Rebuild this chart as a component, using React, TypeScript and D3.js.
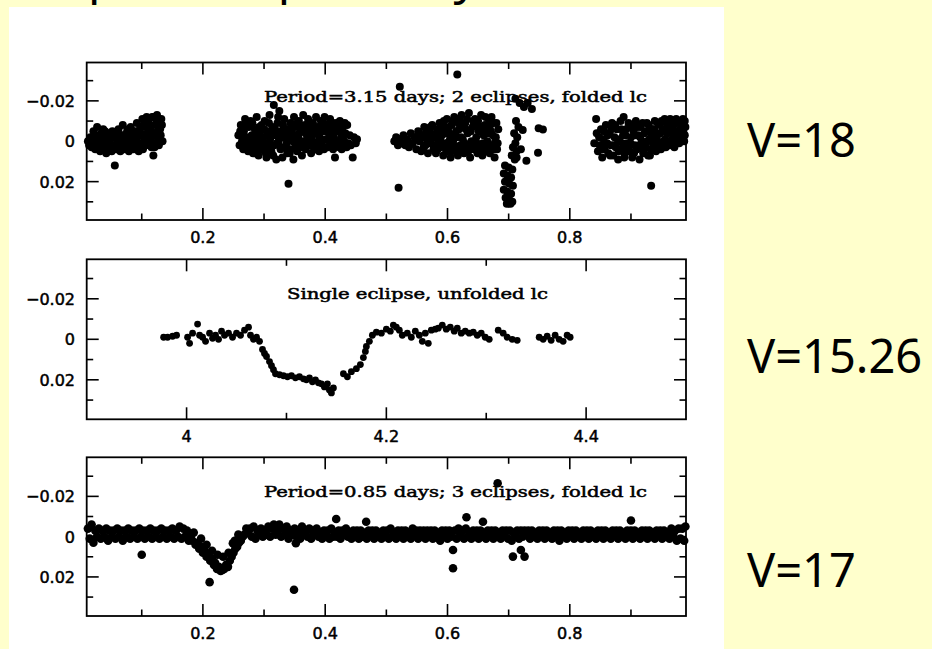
import React from 'react';
import * as d3 from 'd3';

// folded light curve, P = 3.15 d  [phase, delta mag]
const lc1: [number, number][] = [
  [.012,.000],[.016,-.002],[.018,.003],[.021,-.005],[.022,.001],[.024,.004],[.026,-.003],[.027,-.007],[.029,.002],[.031,-.001],
  [.032,.005],[.034,-.004],[.036,.001],[.037,-.006],[.039,.003],[.041,-.002],[.042,.006],[.044,.000],[.046,-.004],[.047,.003],
  [.049,-.001],[.051,.005],[.052,-.005],[.054,.002],[.056,.012],[.057,-.002],[.059,.004],[.061,.000],[.062,-.006],[.064,.003],
  [.066,-.003],[.067,.001],[.069,-.008],[.071,.004],[.072,-.001],[.074,.002],[.076,-.005],[.077,.000],[.079,.005],[.081,-.003],
  [.082,-.007],[.084,.001],[.086,-.002],[.087,.004],[.089,-.005],[.091,.000],[.092,-.009],[.094,.003],[.096,-.003],[.097,-.006],
  [.099,.001],[.101,-.011],[.102,.004],[.104,-.002],[.106,-.007],[.107,.002],[.109,-.004],[.111,-.010],[.112,.000],[.114,-.006],
  [.116,.003],[.117,-.012],[.119,.007],[.120,-.003],[.122,-.008],[.123,.001],[.125,-.013],[.126,-.005],[.128,.002],[.129,-.009],
  [.131,-.003],[.132,-.011],[.134,.000],
  [.014,.002],[.019,-.001],[.023,-.003],[.028,.003],[.033,-.002],[.038,.000],[.040,-.005],[.045,.001],[.050,-.003],[.053,.004],
  [.058,-.004],[.063,-.001],[.065,.005],[.070,-.003],[.073,.002],[.078,-.006],[.080,.002],[.085,-.005],[.088,.001],[.093,-.002],
  [.095,.005],[.098,-.004],[.103,-.008],[.105,.001],[.110,-.002],[.113,-.008],[.115,-.001],[.118,-.004],[.121,.003],[.124,-.010],
  [.127,-.001],[.130,-.006],[.133,-.008],[.108,-.012],[.120,-.012],
  [.258,-.003],[.260,.002],[.262,-.008],[.264,.000],[.266,.004],[.267,-.005],[.269,-.011],[.270,.001],[.272,-.002],[.274,.005],
  [.275,-.007],[.277,.002],[.278,-.010],[.280,-.003],[.282,.006],[.283,.000],[.285,-.006],[.286,.003],[.288,-.012],[.290,-.001],
  [.291,.007],[.293,-.004],[.294,.002],[.296,-.008],[.298,.004],[.299,-.002],[.301,-.010],[.302,.001],[.304,.008],[.306,-.005],
  [.307,.003],[.309,-.013],[.310,-.001],[.312,.005],[.314,-.007],[.316,-.018],[.317,.002],[.319,-.003],[.320,.009],[.322,-.009],
  [.324,.000],[.325,-.015],[.327,.004],[.328,-.005],[.330,.008],[.332,-.002],[.333,-.011],[.335,.003],[.336,-.006],[.338,.006],
  [.340,.021],[.341,-.001],[.343,-.009],[.344,.004],[.346,-.004],[.348,.009],[.349,-.012],[.351,.001],[.352,-.007],[.354,.005],
  [.356,-.002],[.357,-.010],[.359,.003],[.360,-.005],[.362,.007],[.364,-.013],[.365,.000],[.367,-.008],[.368,.004],[.370,-.003],
  [.372,-.011],[.373,.002],[.375,-.006],[.377,.006],[.378,-.001],[.380,-.009],[.381,.003],[.383,-.004],[.385,-.012],[.386,.001],
  [.388,-.007],[.390,.005],[.391,-.002],[.393,-.010],[.394,.002],[.396,-.005],[.398,.004],[.399,-.012],[.401,-.001],[.403,-.008],
  [.404,.003],[.406,-.004],[.408,-.011],[.409,.001],[.411,-.006],[.413,.004],[.414,-.002],[.416,.008],[.418,-.009],[.419,.000],
  [.421,-.005],[.423,.003],[.424,-.010],[.426,-.002],[.428,.002],[.429,-.007],[.431,.000],[.433,-.004],[.435,.003],[.436,-.008],
  [.438,.001],[.440,-.003],[.442,.002],[.445,.008],[.447,-.002],[.450,.001],[.452,-.001],
  [.261,-.005],[.265,-.002],[.268,.003],[.271,-.008],[.276,-.001],[.279,.004],[.281,-.009],[.284,-.003],[.287,.000],[.289,.005],
  [.292,-.007],[.295,-.001],[.297,.002],[.300,-.006],[.303,.006],[.305,-.003],[.308,-.009],[.311,.002],[.313,-.004],[.315,.007],
  [.318,-.006],[.321,.001],[.323,-.012],[.326,-.003],[.329,.003],[.331,-.008],[.334,-.005],[.337,.001],[.339,-.004],[.342,.006],
  [.345,-.007],[.347,.000],[.350,-.003],[.353,.002],[.355,-.009],[.358,-.004],[.361,.001],[.363,-.007],[.366,.003],[.369,-.005],
  [.371,.000],[.374,-.009],[.376,.002],[.379,-.003],[.382,-.007],[.384,.004],[.387,-.004],[.389,.000],[.392,-.007],[.395,.000],
  [.397,-.009],[.400,.003],[.402,-.005],[.405,-.008],[.407,.000],[.410,-.003],[.412,-.009],[.415,.002],[.417,-.005],[.420,-.008],
  [.422,.001],[.425,-.006],[.427,.004],[.430,-.003],[.432,-.009],
  [.513,.000],[.516,-.002],[.519,.002],[.522,-.027],[.520,.023],[.522,-.001],[.525,.001],[.528,-.003],[.531,.002],[.534,-.001],
  [.537,.003],[.540,-.004],[.543,.001],[.546,-.002],[.549,.004],[.552,-.005],[.554,.000],[.557,.005],[.559,-.003],[.562,-.007],
  [.564,.002],[.566,-.001],[.568,.006],[.571,-.005],[.573,.001],[.575,-.008],[.577,.004],[.579,-.002],[.581,.006],[.583,-.006],
  [.585,.000],[.587,-.009],[.589,.003],[.591,-.003],[.593,.007],[.595,-.007],[.597,.001],[.599,-.011],[.601,.004],[.603,-.004],
  [.605,.008],[.607,-.008],[.609,.000],[.611,-.012],[.613,.005],[.615,-.002],[.616,-.033],[.617,.007],[.619,-.006],[.621,.002],
  [.623,-.013],[.625,-.001],[.627,.006],[.629,-.009],[.631,.003],[.633,-.004],[.635,-.014],[.637,.008],[.639,.000],[.641,-.007],
  [.643,.004],[.645,-.011],[.647,-.002],[.649,.006],[.651,-.005],[.653,.002],[.655,-.013],[.657,.007],[.659,-.003],[.661,-.008],
  [.663,.004],[.665,.000],[.667,-.011],[.669,.006],[.671,-.005],[.673,.002],[.675,-.009],[.677,.008],[.679,-.002],[.681,.004],
  [.683,-.006],[.605,-.003],[.612,.003],[.618,-.009],[.624,.004],[.630,-.006],[.636,.002],[.642,-.010],[.648,.001],[.654,-.007],
  [.660,.005],[.666,-.004],[.672,-.012],[.678,.000],[.600,.001],[.590,-.006],[.580,.002],[.570,-.002],
  [.556,-.002],[.561,.003],[.565,-.005],[.569,.001],[.572,-.007],[.576,-.003],[.578,.003],[.582,-.004],[.584,.004],[.586,-.006],
  [.588,-.001],[.592,.002],[.594,-.010],[.596,-.004],[.598,.005],[.602,-.007],[.604,-.001],[.606,.005],[.608,-.010],[.610,.002],
  [.614,-.005],[.620,-.011],[.622,-.002],[.626,-.008],[.628,.001],[.632,-.011],[.634,.005],[.638,-.005],[.640,.003],[.644,-.008],
  [.646,.002],[.650,-.010],[.652,.004],[.656,-.005],[.658,.001],[.662,-.012],[.664,-.006],[.668,.002],[.670,-.008],[.674,-.003],
  [.676,.004],[.680,-.009],[.682,.001],
  // eclipse at phase 0.70
  [.712,-.010],[.716,-.007],[.709,-.004],[.714,-.002],[.711,.001],[.707,.003],[.713,.005],[.705,.007],[.710,.009],[.713,.008],
  [.694,.012],[.700,.013],[.706,.014],[.692,.016],[.698,.017],[.704,.018],[.694,.020],[.701,.021],[.707,.022],[.692,.024],
  [.698,.025],[.704,.026],[.695,.028],[.701,.029],[.706,.030],[.697,.031],[.703,.031],
  [.720,.004],[.729,.0096],[.748,.0057],[.749,-.0065],[.756,-.0058],[.723,-.0056],
  [.711,-.021],[.718,-.019],[.725,-.017],[.731,-.019],[.738,-.016],
  [.843,-.011],[.840,.001],[.844,-.004],[.846,.005],[.849,.002],[.851,-.006],[.853,.008],[.855,-.001],[.857,.004],[.859,-.008],
  [.861,.001],[.863,.006],[.865,-.004],[.867,.002],[.869,-.009],[.871,.007],[.873,-.002],[.875,.003],[.877,-.006],[.879,.009],
  [.881,.000],[.883,-.010],[.885,.004],[.887,-.003],[.888,-.012],[.890,.006],[.892,-.006],[.894,.001],[.896,-.009],[.898,.005],
  [.900,-.002],[.902,.008],[.904,-.005],[.906,.002],[.908,-.010],[.910,.004],[.912,-.003],[.914,.009],[.916,-.007],[.918,.000],
  [.920,.006],[.922,-.004],[.924,.003],[.926,-.009],[.928,.007],[.930,-.001],[.932,.004],[.933,.022],[.935,-.006],[.937,.002],
  [.939,-.010],[.941,.005],[.943,-.003],[.945,.001],[.947,-.008],[.949,.004],[.951,-.005],[.953,.000],[.955,-.011],[.957,.003],
  [.959,-.004],[.961,-.008],[.963,.002],[.965,-.006],[.967,-.001],[.969,-.010],[.971,.003],[.973,-.005],[.975,-.002],[.977,-.009],
  [.979,.001],[.981,-.006],[.983,-.003],[.985,-.011],[.987,.000],[.989,-.007],[.988,-.003],
  [.848,-.002],[.852,.004],[.856,-.005],[.858,.002],[.862,-.003],[.866,.007],[.868,-.006],[.872,.002],[.874,-.008],[.878,-.001],
  [.880,.005],[.884,-.006],[.886,.001],[.889,.008],[.891,-.003],[.895,.003],[.897,-.007],[.899,.001],[.903,-.008],[.905,.006],
  [.907,-.003],[.911,-.007],[.913,.002],[.915,-.002],[.919,-.009],[.921,.004],[.925,-.005],[.927,.000],[.929,-.008],[.931,.007],
  [.934,-.003],[.936,.001],[.938,-.006],[.942,-.001],[.944,-.009],[.946,.003],[.948,-.004],[.950,-.010],[.952,.002],[.954,-.006],
  [.956,-.001],[.958,-.009],[.960,.001],[.962,-.005],[.964,-.011],[.966,.000],[.968,-.004],[.970,-.008],[.972,.000],[.974,-.011],
  [.976,-.004],[.978,.000],[.980,-.009],[.982,-.002],[.984,-.007],[.986,-.004],[.988,-.010],
];

// single eclipse, unfolded  [time, delta mag]
const lc2: [number, number][] = [
  [3.977,-.001],[3.981,-.001],[3.986,-.0015],[3.990,-.002],
  [4.001,-.001],[4.003,.002],[4.006,-.003],[4.011,-.0075],[4.013,-.002],[4.016,-.001],[4.019,.001],[4.023,-.003],[4.026,-.0005],
  [4.029,-.002],[4.032,.000],[4.035,-.004],[4.038,-.002],[4.042,-.003],[4.046,-.001],[4.050,-.003],[4.054,-.002],[4.058,-.0045],
  [4.062,-.006],[4.064,-.002],[4.067,.000],[4.070,-.001],[4.073,.001],
  [4.076,.005],[4.078,.007],[4.080,.0085],[4.083,.011],[4.085,.013],[4.087,.015],[4.089,.017],
  [4.093,.0175],[4.097,.018],[4.101,.0185],[4.105,.018],[4.109,.019],[4.113,.0185],[4.117,.0195],[4.120,.020],[4.123,.019],
  [4.126,.021],[4.129,.020],[4.132,.0215],[4.135,.022],[4.138,.0235],[4.141,.022],[4.143,.025],[4.145,.0265],[4.147,.024],
  [4.157,.017],[4.161,.0185],[4.165,.016],[4.170,.0145],[4.174,.0125],[4.177,.009],[4.179,.006],[4.180,.0035],[4.183,.001],
  [4.186,-.002],[4.190,-.0035],[4.195,-.003],[4.200,-.005],[4.204,-.004],[4.207,-.007],[4.210,-.006],[4.213,-.0045],[4.216,-.002],
  [4.221,-.003],[4.225,-.001],[4.229,-.004],[4.233,-.002],[4.236,.001],[4.239,-.003],[4.242,.002],[4.245,-.0045],[4.249,-.005],
  [4.252,-.0055],[4.256,-.007],[4.260,-.005],[4.264,-.006],[4.268,-.004],[4.271,-.0055],[4.275,-.003],[4.279,-.004],[4.283,-.003],
  [4.287,-.0035],[4.291,-.002],[4.295,-.003],[4.299,-.001],[4.303,.000],[4.312,-.0045],[4.317,-.003],[4.321,-.001],[4.326,.000],
  [4.331,.0005],
  [4.353,-.001],[4.357,.000],[4.361,-.0015],[4.365,.0005],[4.369,-.002],[4.373,.000],[4.377,.001],[4.381,-.002],[4.384,-.001],
];

// folded light curve, P = 0.85 d  [phase, delta mag]
const lc3: [number, number][] = [
  [.012,-.004],[.015,.001],[.018,-.006],[.021,.003],[.024,-.003],[.027,.000],[.030,-.004],[.033,.001],[.036,-.003],[.039,.000],
  [.042,-.004],[.045,.002],[.048,-.003],[.051,.000],[.054,-.003],[.057,.001],[.060,-.004],[.063,.000],[.066,-.003],[.069,.002],
  [.072,-.003],[.075,.000],[.078,-.004],[.081,.001],[.084,-.003],[.087,.000],[.090,-.003],[.093,.001],[.096,-.004],[.099,.000],
  [.100,.009],[.102,-.003],[.105,.001],[.108,-.003],[.111,.000],[.114,-.004],[.117,.001],[.120,-.003],[.123,.000],[.126,-.003],
  [.129,.001],[.132,-.004],[.135,.000],[.138,-.003],[.141,.001],[.144,-.003],[.147,.000],[.150,-.004],[.153,.001],[.156,-.003],
  [.159,.000],[.162,-.005],[.165,.001],[.168,-.004],[.171,.000],[.174,-.003],[.177,.002],
  [.180,.000],[.183,.002],[.185,-.002],[.188,.004],[.191,.003],[.194,.006],[.197,.005],[.200,.008],[.203,.007],[.206,.010],
  [.209,.009],[.211,.0226],[.212,.012],[.215,.011],[.218,.014],[.220,.013],[.223,.016],[.226,.015],[.229,.017],[.232,.0165],
  [.235,.016],[.238,.014],[.241,.015],[.244,.012],[.247,.010],[.249,.0033],[.250,.008],[.253,.006],[.256,.005],[.259,.003],
  [.262,.002],[.265,.000],[.268,-.001],[.271,-.004],[.274,-.002],
  [.197,.001],[.206,.004],[.215,.007],[.224,.009],[.233,.010],[.242,.008],[.252,.002],[.258,-.001],
  [.277,-.004],[.280,.000],[.283,-.005],[.286,.001],[.289,-.003],[.292,-.001],[.295,-.004],[.298,.000],[.301,-.003],[.304,-.001],
  [.307,-.005],[.310,.000],[.313,-.004],[.316,-.006],[.319,-.001],[.322,-.003],[.325,-.006],[.328,.000],[.331,-.004],[.334,-.001],
  [.337,-.005],[.340,.001],[.343,-.003],[.346,-.001],[.349,.0264],[.350,-.004],[.352,.0033],[.353,.000],[.356,-.003],[.359,.001],
  [.362,-.005],[.365,-.001],[.368,-.003],[.371,.000],[.374,-.004],[.377,.001],[.380,-.003],[.383,-.001],[.386,-.004],[.389,.000],
  [.392,-.002],[.395,.001],[.398,-.003],[.401,-.001],[.404,-.003],[.407,.001],[.410,-.004],[.413,.000],[.416,-.002],[.418,-.0088],
  [.419,.000],[.422,-.003],[.425,.001],[.428,-.003],[.431,-.001],[.434,-.004],[.437,.000],[.440,-.002],[.443,.001],[.446,-.003],
  [.449,-.001],[.452,-.003],[.455,.001],[.458,-.003],[.461,.000],[.464,-.002],[.467,-.0074],[.468,.001],[.471,-.003],[.474,-.001],
  [.477,-.003],[.480,.001],[.483,-.003],[.486,.000],[.489,-.002],[.492,.001],[.495,-.003],[.498,-.001],[.501,-.003],[.504,.001],
  [.507,-.004],[.510,.000],[.513,-.002],[.516,.001],[.519,-.003],[.522,-.001],[.525,-.003],[.528,.001],[.531,-.003],[.534,.000],
  [.537,-.002],[.540,.001],[.543,-.004],[.546,-.001],[.549,-.003],[.552,.001],[.555,-.003],[.558,.000],[.561,-.003],[.564,.001],
  [.567,-.003],[.570,-.001],[.573,-.003],[.576,.001],[.579,-.003],[.582,.000],[.585,-.002],[.588,.002],[.591,-.003],[.594,-.001],
  [.597,-.003],[.600,.001],[.603,-.003],[.606,.000],[.609,.0066],[.609,.0157],[.612,-.003],[.615,.001],[.618,-.004],[.621,-.001],
  [.624,-.003],[.627,.001],[.630,-.004],[.631,-.0096],[.633,.000],[.636,-.002],[.639,.001],[.642,-.003],[.645,-.001],[.648,-.003],
  [.651,.001],[.654,-.003],[.657,.000],[.658,-.0074],[.660,-.002],[.663,.001],[.666,-.003],[.669,-.001],[.672,-.003],[.675,.001],
  [.678,-.003],[.681,.000],[.682,-.0265],[.684,-.002],[.687,.001],[.690,-.003],[.693,-.001],[.696,-.003],[.699,.001],[.702,-.003],
  [.705,.002],[.707,.0099],[.708,-.002],[.711,.000],[.714,-.003],[.717,.001],[.720,.0066],[.720,-.003],[.723,.000],[.726,.0099],
  [.726,-.003],[.729,-.001],[.732,-.003],[.735,.001],[.738,-.003],[.741,.000],[.744,-.002],[.747,.001],[.750,-.003],[.753,-.001],
  [.756,-.003],[.759,.001],[.762,-.003],[.765,.000],[.768,-.002],[.771,.001],[.774,-.003],[.777,-.001],[.780,-.003],[.783,.002],
  [.786,-.003],[.789,.000],[.792,-.002],[.795,.001],[.798,-.003],[.801,-.001],[.804,-.003],[.807,.001],[.810,-.003],[.813,.000],
  [.816,-.002],[.819,.001],[.822,-.003],[.825,-.001],[.828,-.003],[.831,.001],[.834,-.003],[.837,.000],[.840,-.002],[.843,.001],
  [.846,-.003],[.849,-.001],[.852,-.003],[.855,.001],[.858,-.003],[.861,.000],[.864,-.002],[.867,.001],[.870,-.003],[.873,-.001],
  [.876,-.003],[.879,.001],[.882,-.003],[.885,.000],[.888,-.002],[.891,.001],[.894,-.003],[.897,-.001],[.900,-.008],[.900,-.003],
  [.903,.001],[.906,-.003],[.909,.000],[.912,-.002],[.915,.001],[.918,-.003],[.921,-.001],[.924,-.003],[.927,.001],[.930,-.003],
  [.933,.000],[.936,-.002],[.939,.001],[.942,-.003],[.945,-.001],[.948,-.003],[.951,.001],[.954,-.003],[.957,.000],[.960,-.002],
  [.963,.001],[.966,-.004],[.969,-.001],[.972,-.003],[.975,.002],[.978,-.004],[.981,.001],[.984,-.004],[.987,.002],[.989,-.005],
];

const phaseMajor = [0.2, 0.4, 0.6, 0.8];
const phaseMinor = [0.1, 0.3, 0.5, 0.7, 0.9];
const phaseLabels = ['0.2', '0.4', '0.6', '0.8'];
const timeMajor = [4, 4.2, 4.4];
const timeMinor = [4.1, 4.3];
const timeLabels = ['4', '4.2', '4.4'];
const magMajor = [-0.02, 0, 0.02];
const magMinor = [-0.03, -0.01, 0.01, 0.03];
const magLabels = ['\u22120.02', '0', '0.02'];

const titles = [
  'Period=3.15 days; 2 eclipses, folded lc',
  'Single eclipse, unfolded lc',
  'Period=0.85 days; 3 eclipses, folded lc',
];
const vLabels = ['V=18', 'V=15.26', 'V=17'];

const W = 932, H = 649;
const left = 86.7, right = 686;

type PanelProps = {
  top: number; bottom: number;
  xDomain: [number, number]; yDomain: [number, number];
  data: [number, number][];
  major: number[]; minor: number[]; labels: string[];
  title: string; titleX: number; titleW: number; titleY: number;
  r: number;
};

const Panel = ({ top, bottom, xDomain, yDomain, data, major, minor, labels, title, titleX, titleW, titleY, r }: PanelProps) => {
  const x = d3.scaleLinear().domain(xDomain).range([left, right]);
  const y = d3.scaleLinear().domain(yDomain).range([top, bottom]);
  const big = 12, small = 6.5;
  const lab = { fontFamily: 'DejaVu Sans', fontSize: 16, fill: '#000', stroke: '#000', strokeWidth: 0.5 };
  return (
    <g>
      {data.map((d, i) => (
        <circle key={i} cx={x(d[0])} cy={y(d[1])} r={r} fill="#000" />
      ))}
      <rect x={left} y={top} width={right - left} height={bottom - top} fill="none" stroke="#000" strokeWidth={1.8} />
      <g stroke="#000" strokeWidth={1.6}>
        {major.map(v => (
          <g key={'M' + v}>
            <line x1={x(v)} x2={x(v)} y1={bottom} y2={bottom - big} />
            <line x1={x(v)} x2={x(v)} y1={top} y2={top + big} />
          </g>
        ))}
        {minor.map(v => (
          <g key={'m' + v}>
            <line x1={x(v)} x2={x(v)} y1={bottom} y2={bottom - small} />
            <line x1={x(v)} x2={x(v)} y1={top} y2={top + small} />
          </g>
        ))}
        {magMajor.map(v => (
          <g key={'yM' + v}>
            <line x1={left} x2={left + big} y1={y(v)} y2={y(v)} />
            <line x1={right} x2={right - big} y1={y(v)} y2={y(v)} />
          </g>
        ))}
        {magMinor.map(v => (
          <g key={'ym' + v}>
            <line x1={left} x2={left + small} y1={y(v)} y2={y(v)} />
            <line x1={right} x2={right - small} y1={y(v)} y2={y(v)} />
          </g>
        ))}
      </g>
      {major.map((v, i) => (
        <text key={'xl' + v} x={x(v)} y={bottom + 23} textAnchor="middle" {...lab}>{labels[i]}</text>
      ))}
      {magMajor.map((v, i) => (
        <text key={'yl' + v} x={75} y={y(v) + 6} textAnchor="end" {...lab}>{magLabels[i]}</text>
      ))}
      <text x={titleX} y={titleY} textLength={titleW} lengthAdjust="spacingAndGlyphs"
        fontFamily="DejaVu Serif" fontSize={14.5} fill="#000" stroke="#000" strokeWidth={0.5}>{title}</text>
    </g>
  );
};

export default function App() {
  return (
    <svg width={W} height={H} style={{ position: 'absolute', left: 0, top: 0 }}>
      <rect x={0} y={0} width={W} height={H} fill="#ffffcc" />
      <text x={-36} y={-6} fontFamily="Noto Sans" fontSize={48} fill="#000">Examples are probably</text>
      <rect x={9} y={7} width={715} height={H - 7} fill="#fff" />
      <Panel top={62.5} bottom={220} xDomain={[0.01, 0.99]} yDomain={[-0.039, 0.039]} data={lc1}
        major={phaseMajor} minor={phaseMinor} labels={phaseLabels}
        title={titles[0]} titleX={264} titleW={383} titleY={101.7} r={4} />
      <Panel top={259.3} bottom={419.3} xDomain={[3.9, 4.5]} yDomain={[-0.0395, 0.0395]} data={lc2}
        major={timeMajor} minor={timeMinor} labels={timeLabels}
        title={titles[1]} titleX={287} titleW={261} titleY={299.3} r={3.4} />
      <Panel top={457.3} bottom={616} xDomain={[0.01, 0.99]} yDomain={[-0.0394, 0.0394]} data={lc3}
        major={phaseMajor} minor={phaseMinor} labels={phaseLabels}
        title={titles[2]} titleX={264} titleW={383} titleY={497.3} r={4.3} />
      {vLabels.map((t, i) => (
        <text key={t} x={747} y={[156.7, 373.3, 586.7][i]} fontFamily="Noto Sans" fontSize={47} fill="#000">{t}</text>
      ))}
    </svg>
  );
}
